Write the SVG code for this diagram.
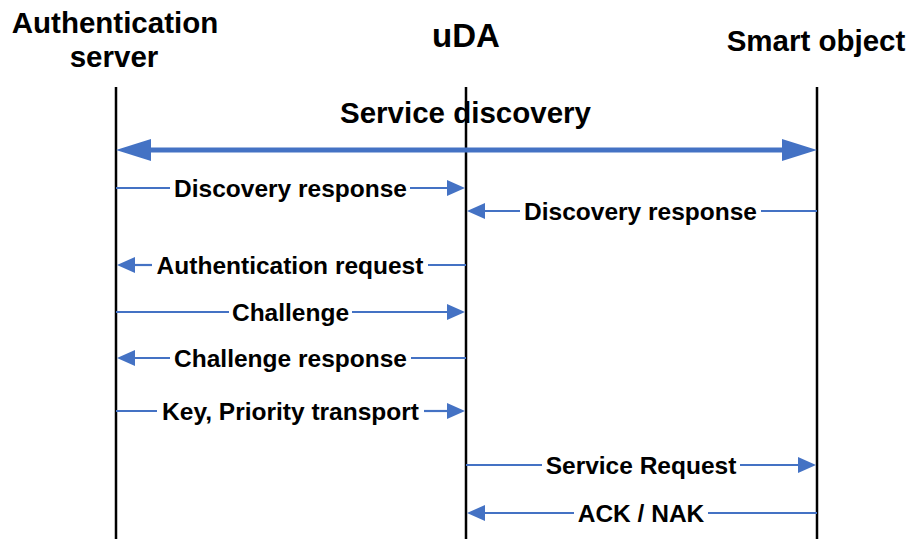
<svg xmlns="http://www.w3.org/2000/svg" width="912" height="539" viewBox="0 0 912 539">
<style>
.hdr{font-family:"Liberation Sans",Arial,sans-serif;font-weight:bold;font-size:29.5px;fill:#000;text-anchor:middle}
.msg{font-family:"Liberation Sans",Arial,sans-serif;font-weight:bold;font-size:24.5px;fill:#000;text-anchor:middle}
.life{stroke:#000;stroke-width:2.5;fill:none}
.ln{stroke:#4472C4;stroke-width:2.2;fill:none}
.ah{fill:#4472C4}
</style>
<rect width="912" height="539" fill="#fff"/>
<g id="auth-server">
<text class="hdr" x="115" y="33">Authentication</text>
<text class="hdr" x="114" y="67">server</text>
<line class="life" x1="116" y1="87" x2="116" y2="539"/>
</g>
<g id="uda">
<text class="hdr" x="466" y="47" style="font-size:33px">uDA</text>
<line class="life" x1="466" y1="87" x2="466" y2="539"/>
</g>
<g id="smart-object">
<text class="hdr" x="816" y="51">Smart object</text>
<line class="life" x1="817" y1="87" x2="817" y2="539"/>
</g>
<g id="connectors">
<g id="service-discovery">
<text class="hdr" x="465.5" y="123">Service discovery</text>
<line x1="145" y1="150" x2="788" y2="150" stroke="#4472C4" stroke-width="5"/>
<polygon class="ah" points="116,150 151,139 151,161"/>
<polygon class="ah" points="817,150 782,139 782,161"/>
</g>
<g id="m1">
<line class="ln" x1="116" y1="188" x2="170" y2="188"/><line class="ln" x1="410" y1="188" x2="449" y2="188"/>
<polygon class="ah" points="465,188 447,180 447,196"/>
<text class="msg" x="290.5" y="197">Discovery response</text>
</g>
<g id="m2">
<line class="ln" x1="817" y1="211" x2="761" y2="211"/><line class="ln" x1="520" y1="211" x2="483" y2="211"/>
<polygon class="ah" points="467,211 485,203 485,219"/>
<text class="msg" x="640.5" y="220">Discovery response</text>
</g>
<g id="m3">
<line class="ln" x1="466" y1="265" x2="428" y2="265"/><line class="ln" x1="152" y1="265" x2="133" y2="265"/>
<polygon class="ah" points="117,265 135,257 135,273"/>
<text class="msg" x="290" y="274">Authentication request</text>
</g>
<g id="m4">
<line class="ln" x1="116" y1="312" x2="229" y2="312"/><line class="ln" x1="352" y1="312" x2="449" y2="312"/>
<polygon class="ah" points="465,312 447,304 447,320"/>
<text class="msg" x="290.5" y="321">Challenge</text>
</g>
<g id="m5">
<line class="ln" x1="466" y1="358" x2="411" y2="358"/><line class="ln" x1="170" y1="358" x2="133" y2="358"/>
<polygon class="ah" points="117,358 135,350 135,366"/>
<text class="msg" x="290.5" y="367">Challenge response</text>
</g>
<g id="m6">
<line class="ln" x1="116" y1="411" x2="157" y2="411"/><line class="ln" x1="424" y1="411" x2="449" y2="411"/>
<polygon class="ah" points="465,411 447,403 447,419"/>
<text class="msg" x="290.5" y="420">Key, Priority transport</text>
</g>
<g id="m7">
<line class="ln" x1="466" y1="465" x2="542" y2="465"/><line class="ln" x1="740" y1="465" x2="800" y2="465"/>
<polygon class="ah" points="816,465 798,457 798,473"/>
<text class="msg" x="641" y="474">Service Request</text>
</g>
<g id="m8">
<line class="ln" x1="817" y1="513" x2="708" y2="513"/><line class="ln" x1="574" y1="513" x2="483" y2="513"/>
<polygon class="ah" points="467,513 485,505 485,521"/>
<text class="msg" x="641" y="522">ACK / NAK</text>
</g>
</g>
</svg>
